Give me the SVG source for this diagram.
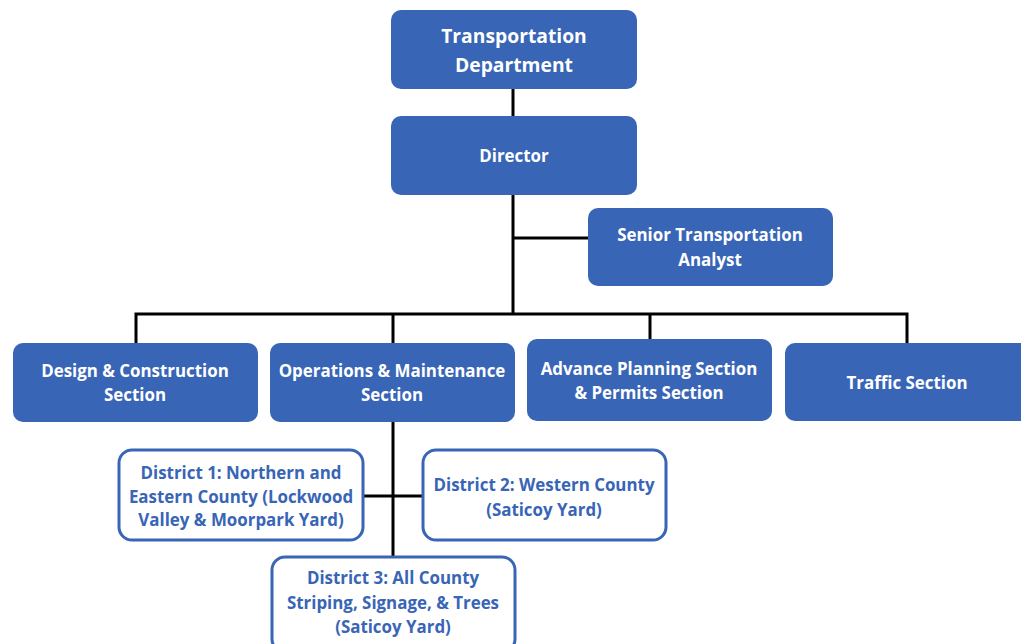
<svg xmlns="http://www.w3.org/2000/svg" width="1021" height="644" viewBox="0 0 1021 644">
<style>
.box{fill:#3865B6;}
.obox{fill:#fff;stroke:#3865B6;stroke-width:3;}
.t{font-family:"Open Sans","Liberation Sans",sans-serif;font-weight:700;font-size:16.9px;fill:#fff;text-anchor:middle;}
.big{font-size:19.3px;}
.d{font-family:"Open Sans","Liberation Sans",sans-serif;font-weight:700;font-size:16.9px;fill:#3865B6;text-anchor:middle;}
.c{stroke:#000;stroke-width:3;fill:none;}
</style>
<rect width="1021" height="644" fill="#fff"/>
<g id="connectors">
<path class="c" d="M513 89V314"/>
<path class="c" d="M513 238H588"/>
<path class="c" d="M136 343V314H907V343"/>
<path class="c" d="M393 314V343"/>
<path class="c" d="M650 314V339"/>
<path class="c" d="M393 422V557"/>
<path class="c" d="M363 496H423"/>
</g>
<g id="transportation-department">
<rect class="box" x="391" y="10" width="246" height="79" rx="10"/>
<text class="t big" x="514" y="43">Transportation</text>
<text class="t big" x="514" y="72">Department</text>
</g>
<g id="director">
<rect class="box" x="391" y="116" width="246" height="79" rx="10"/>
<text class="t" x="514" y="162">Director</text>
</g>
<g id="senior-analyst">
<rect class="box" x="588" y="208" width="245" height="78" rx="10"/>
<text class="t" x="710" y="241">Senior Transportation</text>
<text class="t" x="710" y="266">Analyst</text>
</g>
<g id="design-construction">
<rect class="box" x="13" y="343" width="245" height="79" rx="10"/>
<text class="t" x="135" y="377">Design &amp; Construction</text>
<text class="t" x="135" y="401">Section</text>
</g>
<g id="operations-maintenance">
<rect class="box" x="270" y="343" width="245" height="79" rx="10"/>
<text class="t" x="392" y="377">Operations &amp; Maintenance</text>
<text class="t" x="392" y="401">Section</text>
</g>
<g id="advance-planning">
<rect class="box" x="527" y="339" width="245" height="82" rx="10"/>
<text class="t" x="649" y="375">Advance Planning Section</text>
<text class="t" x="649" y="399">&amp; Permits Section</text>
</g>
<g id="traffic">
<rect class="box" x="785" y="343" width="250" height="78" rx="10"/>
<text class="t" x="907" y="389">Traffic Section</text>
</g>
<g id="district-1">
<rect class="obox" x="119" y="450" width="244" height="90" rx="13"/>
<text class="d" x="241" y="479">District 1: Northern and</text>
<text class="d" x="241" y="503">Eastern County (Lockwood</text>
<text class="d" x="241" y="526">Valley &amp; Moorpark Yard)</text>
</g>
<g id="district-2">
<rect class="obox" x="423" y="450" width="243" height="90" rx="13"/>
<text class="d" x="544" y="491">District 2: Western County</text>
<text class="d" x="544" y="516">(Saticoy Yard)</text>
</g>
<g id="district-3">
<rect class="obox" x="272" y="557" width="243" height="95" rx="13"/>
<text class="d" x="393" y="584">District 3: All County</text>
<text class="d" x="393" y="609">Striping, Signage, &amp; Trees</text>
<text class="d" x="393" y="633">(Saticoy Yard)</text>
</g>
</svg>
